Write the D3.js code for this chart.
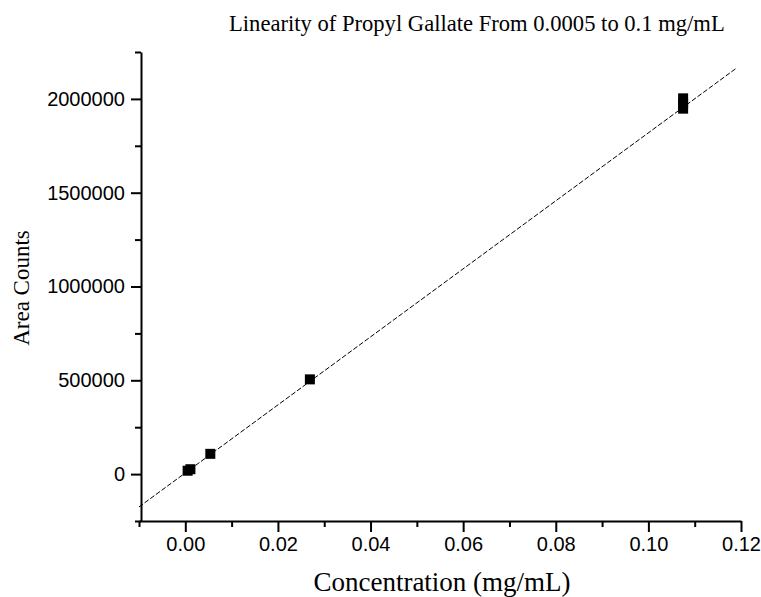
<!DOCTYPE html>
<html>
<head>
<meta charset="utf-8">
<script src="https://cdn.jsdelivr.net/npm/d3@7"></script>
<style>
  body { margin: 0; background: #fff; }
  svg { display: block; }
</style>
</head>
<body>
<svg id="chart" width="761" height="597"></svg>
<script>
// measured points (concentration mg/mL, area counts)
var concX = [0.0005, 0.0011, 0.0054, 0.0269, 0.1075, 0.1075, 0.1075];
var areaY = [18000, 26000, 108000, 505000, 1948000, 1975000, 2003000];
// fitted line ends
var fitX = [-0.01, 0.1188];
var fitY = [-175000, 2160000];
var xTicks = [0, 0.02, 0.04, 0.06, 0.08, 0.10, 0.12];
var yTicks = [0, 500000, 1000000, 1500000, 2000000];

var svg = d3.select("#chart");

var x = d3.scaleLinear().domain([-0.01, 0.12]).range([139, 741]);
var y = d3.scaleLinear().domain([-250000, 2250000]).range([521, 52]);

// minor ticks first
svg.append("g")
  .attr("transform", "translate(0,521)")
  .call(d3.axisBottom(x).tickValues(d3.range(-0.01, 0.125, 0.02)).tickSize(6).tickFormat(""))
  .call(g => g.select(".domain").remove());
svg.append("g")
  .attr("transform", "translate(141,0)")
  .call(d3.axisLeft(y).tickValues(d3.range(-250000, 2260000, 500000)).tickSize(6).tickFormat(""))
  .call(g => g.select(".domain").remove());

var xAxis = svg.append("g")
  .attr("transform", "translate(0,521)")
  .call(d3.axisBottom(x).tickValues(xTicks).tickSize(11).tickSizeOuter(0).tickPadding(5).tickFormat(d3.format(".2f")));
var yAxis = svg.append("g")
  .attr("transform", "translate(141,0)")
  .call(d3.axisLeft(y).tickValues(yTicks).tickSize(10).tickSizeOuter(0).tickPadding(6).tickFormat(d3.format("d")));

svg.selectAll(".tick line").attr("stroke", "#000").attr("stroke-width", 2);
svg.selectAll(".domain").attr("stroke", "#000").attr("stroke-width", 2);
svg.selectAll(".tick text")
  .attr("font-family", "'Liberation Sans', Arial, sans-serif")
  .attr("font-size", 20)
  .attr("fill", "#000");

// fit line
svg.append("line")
  .attr("x1", x(fitX[0])).attr("y1", y(fitY[0]))
  .attr("x2", x(fitX[1])).attr("y2", y(fitY[1]))
  .attr("stroke", "#000")
  .attr("stroke-width", 1)
  .attr("stroke-dasharray", "5,2");

// points
var pts = concX.map(function(c, i) { return [c, areaY[i]]; });
svg.selectAll("rect.pt").data(pts).enter().append("rect")
  .attr("class", "pt")
  .attr("x", d => x(d[0]) - 5)
  .attr("y", d => y(d[1]) - 5)
  .attr("width", 10).attr("height", 10)
  .attr("fill", "#000");

// titles
var serif = "'Liberation Serif', 'Times New Roman', serif";
svg.append("text")
  .attr("x", 229).attr("y", 31)
  .attr("font-family", serif).attr("font-size", 22.6)
  .text("Linearity of Propyl Gallate From 0.0005 to 0.1 mg/mL");
svg.append("text")
  .attr("x", 442).attr("y", 591)
  .attr("text-anchor", "middle")
  .attr("font-family", serif).attr("font-size", 27)
  .text("Concentration (mg/mL)");
svg.append("text")
  .attr("transform", "translate(29,288) rotate(-90)")
  .attr("text-anchor", "middle")
  .attr("font-family", serif).attr("font-size", 23)
  .text("Area Counts");
</script>
</body>
</html>
